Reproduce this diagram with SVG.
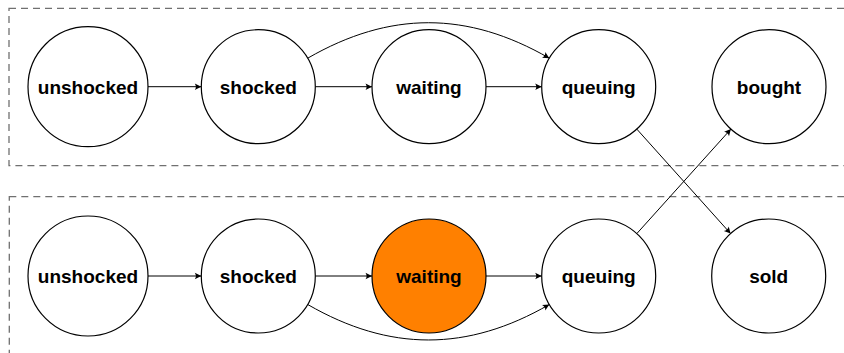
<svg xmlns="http://www.w3.org/2000/svg" width="844" height="353" viewBox="0 0 844 353">
<defs>
<style>
.frame{fill:none;stroke:#707070;stroke-width:1.3;stroke-dasharray:7 5}
.node circle{fill:#fff;stroke:#000;stroke-width:1.2}
.node.hl circle{fill:#FF8000}
.node text{font-family:"Liberation Sans",Arial,sans-serif;font-weight:bold;font-size:19px;text-anchor:middle;fill:#000}
.edge{fill:none;stroke:#000;stroke-width:1;marker-end:url(#arr)}
</style>
<marker id="arr" markerUnits="userSpaceOnUse" viewBox="-8 -4 9 8" refX="0" refY="0" markerWidth="9" markerHeight="8" orient="auto">
<path d="M0,0 L-6.5,-3.3 Q-4.3,0 -6.5,3.3 Z" fill="#000"/>
</marker>
</defs>
<rect class="frame" x="9" y="8.3" width="900" height="157.4"/>
<rect class="frame" x="9.3" y="196.7" width="900" height="200"/>
<g id="connectors">
<line class="edge" x1="148" y1="86.7" x2="201.3" y2="86.7"/>
<line class="edge" x1="315.3" y1="86.7" x2="372" y2="86.7"/>
<line class="edge" x1="486" y1="86.7" x2="541.7" y2="86.7"/>
<path class="edge" d="M307.7,58.2 C389.6,10.9 467.4,10.9 549.3,58.2"/>
<line class="edge" x1="636.8" y1="129.1" x2="730.6" y2="233.6"/>
<line class="edge" x1="148" y1="276" x2="201.3" y2="276"/>
<line class="edge" x1="315.3" y1="276" x2="372" y2="276"/>
<line class="edge" x1="486" y1="276" x2="541.7" y2="276"/>
<path class="edge" d="M307.7,304.5 C389.6,351.8 467.4,351.8 549.3,304.5"/>
<line class="edge" x1="636.8" y1="233.6" x2="730.9" y2="129.1"/>
</g>
<g id="top-unshocked" class="node"><circle cx="88" cy="86.7" r="60"/><text x="88" y="93.5">unshocked</text></g>
<g id="top-shocked" class="node"><circle cx="258.3" cy="86.7" r="57"/><text x="258.3" y="93.5">shocked</text></g>
<g id="top-waiting" class="node"><circle cx="429" cy="86.7" r="57"/><text x="429" y="93.5">waiting</text></g>
<g id="top-queuing" class="node"><circle cx="598.7" cy="86.7" r="57"/><text x="598.7" y="93.5">queuing</text></g>
<g id="bought" class="node"><circle cx="769" cy="86.7" r="57"/><text x="769" y="93.5">bought</text></g>
<g id="bot-unshocked" class="node"><circle cx="88" cy="276" r="60"/><text x="88" y="282.8">unshocked</text></g>
<g id="bot-shocked" class="node"><circle cx="258.3" cy="276" r="57"/><text x="258.3" y="282.8">shocked</text></g>
<g id="bot-waiting" class="node hl"><circle cx="429" cy="276" r="57"/><text x="429" y="282.8">waiting</text></g>
<g id="bot-queuing" class="node"><circle cx="598.7" cy="276" r="57"/><text x="598.7" y="282.8">queuing</text></g>
<g id="sold" class="node"><circle cx="768.7" cy="276" r="57"/><text x="768.7" y="282.8">sold</text></g>
</svg>
